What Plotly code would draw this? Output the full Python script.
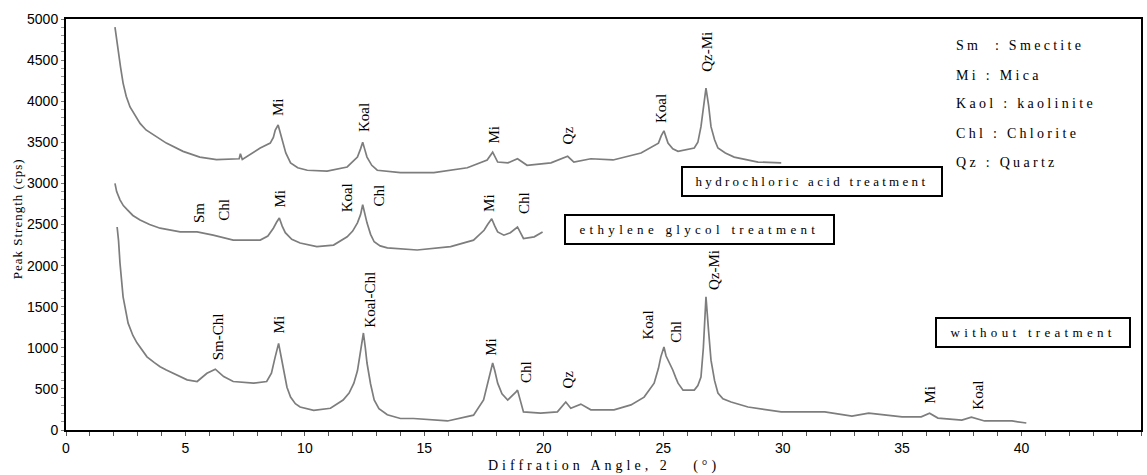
import plotly.graph_objects as go

# ---- data ----
hcl_x = [2.05, 2.1, 2.18, 2.28, 2.39, 2.52, 2.68, 2.9, 3.1, 3.35, 3.65, 4.2, 4.9, 5.6, 6.3, 7.0, 7.25, 7.3, 7.38,
         8.13, 8.55, 8.68, 8.76, 8.88, 8.97, 9.05, 9.2, 9.4, 9.7, 10.1, 10.93, 11.77, 12.2, 12.33, 12.42, 12.5,
         12.6, 12.8, 13.03, 14.0, 15.4, 16.8, 17.63, 17.86, 18.07, 18.5, 18.9, 19.3, 20.3, 21.0, 21.26, 21.97,
         22.9, 24.07, 24.8, 24.92, 25.03, 25.12, 25.2, 25.4, 25.62, 26.3, 26.45, 26.58, 26.68, 26.79, 26.9,
         27.0, 27.15, 27.29, 27.6, 27.97, 28.97, 29.94]
hcl_y = [4900, 4780, 4620, 4420, 4220, 4060, 3930, 3820, 3730, 3650, 3590, 3490, 3390, 3320, 3290, 3300, 3300, 3360, 3290,
         3430, 3490, 3560, 3650, 3710, 3620, 3530, 3370, 3250, 3190, 3160, 3150, 3200, 3320, 3420, 3500, 3420,
         3320, 3220, 3160, 3130, 3130, 3190, 3285, 3380, 3260, 3250, 3300, 3220, 3250, 3330, 3260, 3300,
         3285, 3370, 3490, 3580, 3640, 3560, 3490, 3420, 3390, 3430, 3500, 3690, 3950, 4160, 3950,
         3690, 3530, 3430, 3370, 3320, 3260, 3250]

eg_x = [2.05, 2.12, 2.26, 2.4, 2.56, 2.8, 3.1, 3.5, 3.94, 4.78, 5.49, 6.16, 7.0, 8.13, 8.45, 8.68, 8.82, 8.93,
        9.05, 9.18, 9.45, 9.8, 10.5, 11.2, 11.77, 12.0, 12.2, 12.33, 12.42, 12.5, 12.6, 12.75, 12.9, 13.15,
        13.45, 14.7, 16.1, 17.06, 17.5, 17.65, 17.82, 17.95, 18.07, 18.33, 18.6, 18.9, 19.0, 19.15, 19.6, 19.95]
eg_y = [3000, 2900, 2800, 2730, 2680, 2610, 2555, 2500, 2455, 2410, 2410, 2370, 2310, 2310, 2360, 2455, 2530, 2580,
        2480, 2400, 2320, 2275, 2230, 2250, 2350, 2420, 2520, 2620, 2740, 2640, 2520, 2380, 2290, 2240,
        2215, 2190, 2230, 2310, 2430, 2500, 2570, 2480, 2410, 2370, 2400, 2470, 2420, 2330, 2350, 2410]

raw_x = [2.14, 2.2, 2.26, 2.39, 2.6, 2.8, 2.97, 3.2, 3.39, 3.7, 3.94, 4.2, 4.49, 4.8, 5.07, 5.49, 5.9, 6.25, 6.6,
         7.0, 7.85, 8.4, 8.6, 8.75, 8.9, 9.0, 9.1, 9.25, 9.4, 9.6, 9.8, 10.37, 11.07, 11.6, 11.85, 12.05, 12.2,
         12.33, 12.45, 12.53, 12.6, 12.75, 12.9, 13.1, 13.45, 14.0, 14.55, 15.97, 17.06, 17.48, 17.65, 17.78,
         17.86, 17.95, 18.07, 18.25, 18.49, 18.83, 18.9, 19.15, 19.87, 20.57, 20.92, 21.13, 21.55, 21.97, 22.94,
         23.65, 24.2, 24.62, 24.8, 24.9, 25.03, 25.12, 25.2, 25.3, 25.4, 25.52, 25.62, 25.83, 26.3, 26.45, 26.58,
         26.68, 26.79, 26.9, 27.0, 27.15, 27.29, 27.5, 27.84, 28.55, 29.94, 31.76, 32.9, 33.6, 35.0, 35.8, 36.15,
         36.5, 37.5, 37.9, 38.45, 39.6, 40.2]
raw_y = [2470, 2300, 2030, 1620, 1300, 1150, 1060, 960, 890, 820, 770, 730, 690, 640, 610, 590, 690, 740, 650,
         590, 570, 590, 690, 880, 1054, 900, 730, 520, 400, 320, 280, 240, 265, 365, 450, 570, 720,
         940, 1180, 1000, 815, 560, 365, 260, 185, 140, 140, 110, 180, 365, 560, 730,
         815, 720, 570, 440, 365, 460, 485, 220, 205, 220, 340, 265, 315, 245, 245,
         305, 400, 570, 750, 890, 1010, 900, 850, 800, 730, 640, 570, 485, 485, 540, 645,
         1000, 1620, 1200, 850, 600, 450, 380, 340, 280, 220, 220, 170, 205, 160, 160, 205,
         145, 120, 155, 110, 110, 85]

peak_labels = ["Mi", "Koal", "Mi", "Qz", "Koal", "Qz-Mi",
               "Sm", "Chl", "Mi", "Koal", "Chl", "Mi", "Chl",
               "Sm-Chl", "Mi", "Koal-Chl", "Mi", "Chl", "Qz", "Koal", "Chl", "Qz-Mi", "Mi", "Koal"]
peak_label_x = [8.88, 12.45, 17.9, 21.0, 24.9, 26.83,
                5.57, 6.6, 8.97, 11.77, 13.08, 17.7, 19.17,
                6.37, 8.9, 12.75, 17.78, 19.25, 21.0, 24.35, 25.53, 27.1, 36.15, 38.2]
peak_label_y = [3930, 3800, 3590, 3580, 3915, 4600,
                2640, 2675, 2820, 2820, 2860, 2760, 2760,
                1130, 1280, 1580, 1010, 705, 610, 1280, 1195, 1950, 425, 425]

legend_lines = ["Sm  : Smectite", "Mi : Mica", "Kaol : kaolinite", "Chl : Chlorite", "Qz : Quartz"]
legend_y = [4672, 4307, 3966, 3613, 3260]
legend_x = 37.19

box_texts = ["hydrochloric acid treatment", "ethylene glycol treatment", "without treatment"]
box_x = [31.24, 26.5, 40.48]
box_y = [3023, 2445, 1186]

x_ticks = [0, 5, 10, 15, 20, 25, 30, 35, 40, 45]
y_ticks = [0, 500, 1000, 1500, 2000, 2500, 3000, 3500, 4000, 4500, 5000]

SERIF = "Liberation Serif, Times New Roman, serif"
SANS = "Liberation Sans, Arial, sans-serif"
LINE = dict(color="#7d7d7d", width=1.7)
BOX_SPACING = [3.3, 4.3, 4.3]

fig = go.Figure()
for xs, ys, nm in [(hcl_x, hcl_y, "hydrochloric acid treatment"),
                   (eg_x, eg_y, "ethylene glycol treatment"),
                   (raw_x, raw_y, "without treatment")]:
    fig.add_trace(go.Scatter(x=xs, y=ys, mode="lines", line=LINE, name=nm, showlegend=False))

ann = []
for t, x, y in zip(peak_labels, peak_label_x, peak_label_y):
    ann.append(dict(x=x, y=y, xref="x", yref="y", text=t, textangle=-90, showarrow=False,
                    xanchor="center", yanchor="middle", font=dict(family=SERIF, size=15, color="black")))
for t, y in zip(legend_lines, legend_y):
    ann.append(dict(x=legend_x, y=y, xref="x", yref="y",
                    text='<span style="letter-spacing:3.3px">' + t + '</span>',
                    showarrow=False, xanchor="left", yanchor="middle",
                    font=dict(family=SERIF, size=14, color="black")))
for t, x, y, sp in zip(box_texts, box_x, box_y, BOX_SPACING):
    ann.append(dict(x=x, y=y, xref="x", yref="y",
                    text='<span style="letter-spacing:%.1fpx">&nbsp;' % sp + t + '&nbsp;</span>',
                    showarrow=False, xanchor="center", yanchor="middle",
                    bordercolor="black", borderwidth=2, borderpad=6, bgcolor="white",
                    font=dict(family=SERIF, size=13, color="black")))
ann.append(dict(x=0.5, y=-0.0876, xref="paper", yref="paper",
                text='<span style="letter-spacing:4px">Diffration Angle, 2   (°)</span>',
                showarrow=False, xanchor="center", yanchor="middle",
                font=dict(family=SERIF, size=14, color="black")))
ann.append(dict(x=-0.0455, y=0.513, xref="paper", yref="paper",
                text='<span style="letter-spacing:1px">Peak Strength (cps)</span>', textangle=-90,
                showarrow=False, xanchor="center", yanchor="middle",
                font=dict(family=SERIF, size=13, color="black")))

fig.update_layout(
    width=1147, height=475,
    margin=dict(l=66, r=4, t=19, b=45),
    paper_bgcolor="white", plot_bgcolor="white",
    annotations=ann,
    xaxis=dict(range=[0, 45], tickvals=x_ticks, ticktext=[str(v) for v in x_ticks],
               showgrid=False, zeroline=False, showline=True, linecolor="black", linewidth=2, mirror=True,
               ticks="outside", ticklen=4, tickcolor="#555", tickwidth=1,
               minor=dict(dtick=1, ticks="outside", ticklen=4, tickcolor="#555", tickwidth=1),
               tickfont=dict(family=SANS, size=14, color="black")),
    yaxis=dict(range=[0, 5000], tickvals=y_ticks, ticktext=[str(v) for v in y_ticks],
               showgrid=False, zeroline=False, showline=True, linecolor="black", linewidth=2, mirror=True,
               ticks="outside", ticklen=3, tickcolor="#777", tickwidth=1,
               minor=dict(dtick=100, ticks="outside", ticklen=3, tickcolor="#999", tickwidth=1),
               tickfont=dict(family=SANS, size=14, color="black")),
)

fig.write_html("out.html")
